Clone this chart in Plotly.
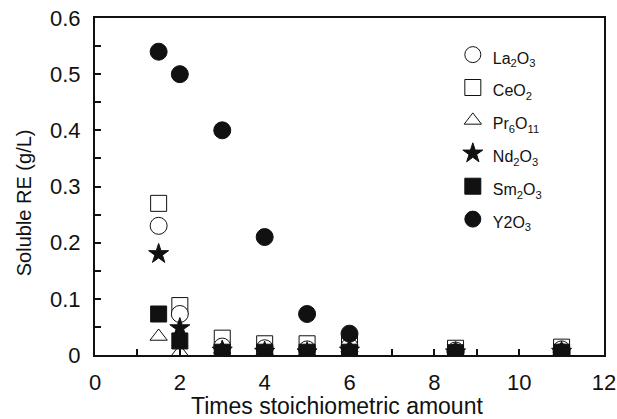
import plotly.graph_objects as go

x_vals = [1.5, 2, 3, 4, 5, 6, 8.5, 11]
la2o3 = [0.23, 0.073, 0.015, 0.012, 0.010, 0.015, 0.008, 0.010]
ceo2 = [0.27, 0.088, 0.030, 0.020, 0.020, 0.021, 0.012, 0.014]
pr6o11 = [0.033, 0.005, 0.010, 0.008, 0.006, 0.012, 0.006, 0.008]
nd2o3 = [0.18, 0.048, 0.008, 0.006, 0.005, 0.008, 0.005, 0.006]
sm2o3 = [0.073, 0.025, 0.005, 0.005, 0.005, 0.005, 0.004, 0.005]
y2o3 = [0.54, 0.50, 0.40, 0.21, 0.073, 0.038, 0.005, 0.005]

x_ticks = [0, 2, 4, 6, 8, 10, 12]
y_ticks = [0, 0.1, 0.2, 0.3, 0.4, 0.5, 0.6]
y_ticktext = ["0", "0.1", "0.2", "0.3", "0.4", "0.5", "0.6"]

series = [
    ("La<sub>2</sub>O<sub>3</sub>", la2o3, "circle", "white", 17),
    ("CeO<sub>2</sub>", ceo2, "square", "white", 16),
    ("Pr<sub>6</sub>O<sub>11</sub>", pr6o11, "triangle-up", "white", 15),
    ("Nd<sub>2</sub>O<sub>3</sub>", nd2o3, "star", "#111", 15),
    ("Sm<sub>2</sub>O<sub>3</sub>", sm2o3, "square", "#111", 16),
    ("Y2O<sub>3</sub>", y2o3, "circle", "#111", 17),
]
draw_order = [1, 0, 2, 3, 4, 5]

fig = go.Figure()
for i in draw_order:
    name, vals, sym, col, size = series[i]
    fig.add_trace(go.Scatter(
        x=x_vals, y=vals, mode="markers",
        name='<span style="font-size:16px">' + name + '</span>',
        legendrank=i + 1,
        marker=dict(symbol=sym, size=size, color=col,
                    line=dict(color="#111", width=1)),
    ))

fig.update_layout(
    width=617, height=419,
    margin=dict(l=95, r=13, t=18, b=64),
    paper_bgcolor="white", plot_bgcolor="white",
    font=dict(family="Liberation Sans, Arial, sans-serif", color="#111", size=22),
    showlegend=True,
    legend=dict(x=0.703, y=0.955, xanchor="left", yanchor="top",
                bgcolor="rgba(0,0,0,0)", font=dict(size=23),
                tracegroupgap=0, itemwidth=30),
    annotations=[
        dict(text="Times stoichiometric amount", xref="paper", yref="paper",
             x=0.4745, y=-0.15, xanchor="center", yanchor="middle",
             showarrow=False, font=dict(size=23)),
        dict(text="Soluble RE (g/L)", xref="paper", yref="paper",
             x=-0.139, y=0.451, xanchor="center", yanchor="middle",
             textangle=-90, showarrow=False, font=dict(size=20)),
    ],
)
fig.update_xaxes(
    range=[0, 12], tickvals=x_ticks,
    ticks="inside", ticklen=6, tickwidth=1.5, tickcolor="#111",
    ticklabelstandoff=7, automargin=False,
    tickfont=dict(size=22),
    minor=dict(tickvals=[1, 3, 5, 7, 9, 11], ticks="inside", ticklen=6, tickwidth=1.5, tickcolor="#111"),
    showline=True, linewidth=2, linecolor="#111", mirror=True,
    showgrid=False, zeroline=False,
)
fig.update_yaxes(
    range=[0, 0.6],
    tickvals=y_ticks, ticktext=y_ticktext,
    ticks="inside", ticklen=6, tickwidth=1.5, tickcolor="#111",
    ticklabelstandoff=8, automargin=False,
    tickfont=dict(size=22),
    minor=dict(tickvals=[0.05, 0.15, 0.25, 0.35, 0.45, 0.55], ticks="inside", ticklen=6, tickwidth=1.5, tickcolor="#111"),
    showline=True, linewidth=2, linecolor="#111", mirror=True,
    showgrid=False, zeroline=False,
)

fig.write_html("out.html")
